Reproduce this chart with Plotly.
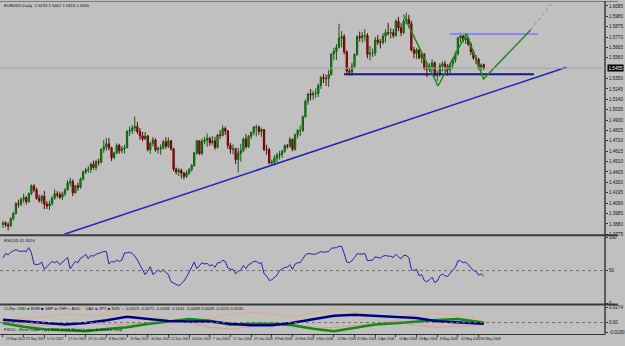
import plotly.graph_objects as go

# ---------------- data ----------------
date_labels = ["13 Sep 2007", "25 Sep 2007", "5 Oct 2007", "17 Oct 2007", "29 Oct 2007",
               "8 Nov 2007", "20 Nov 2007", "30 Nov 2007", "12 Dec 2007", "24 Dec 2007",
               "7 Jan 2008", "17 Jan 2008", "29 Jan 2008", "8 Feb 2008", "20 Feb 2008",
               "3 Mar 2008", "13 Mar 2008", "25 Mar 2008", "4 Apr 2008", "16 Apr 2008",
               "28 Apr 2008", "8 May 2008", "20 May 2008", "30 May 2008"]
label_bars = [0, 8, 16, 24, 32, 40, 48, 56, 64, 72, 80, 88, 96, 104, 112, 120, 128, 136,
              144, 152, 160, 168, 176, 184]

first_open = 1.3875
closes = [
    # Sep 2007
    1.3890, 1.3870, 1.3860, 1.3935, 1.3985, 1.4085, 1.4080, 1.4130, 1.4145, 1.4105, 1.4185, 1.4265,
    # Oct
    1.4225, 1.4140, 1.4115, 1.4160, 1.4080, 1.4060, 1.4085, 1.4140, 1.4185, 1.4175, 1.4150, 1.4185,
    1.4225, 1.4295, 1.4310, 1.4195, 1.4265, 1.4250, 1.4330, 1.4405, 1.4425, 1.4430, 1.4485,
    # Nov
    1.4450, 1.4510, 1.4505, 1.4635, 1.4660, 1.4690, 1.4650, 1.4550, 1.4595, 1.4675, 1.4620, 1.4640,
    1.4650, 1.4815, 1.4825, 1.4850, 1.4865, 1.4815, 1.4770, 1.4740, 1.4770, 1.4630,
    # Dec
    1.4695, 1.4730, 1.4630, 1.4640, 1.4650, 1.4710, 1.4665, 1.4720, 1.4640, 1.4435, 1.4405, 1.4420,
    1.4395, 1.4360, 1.4395, 1.4430, 1.4470, 1.4600, 1.4720, 1.4590,
    # Jan 2008
    1.4715, 1.4730, 1.4745, 1.4700, 1.4720, 1.4655, 1.4780, 1.4775, 1.4845, 1.4820, 1.4675, 1.4635,
    1.4640, 1.4530, 1.4595, 1.4620, 1.4740, 1.4660, 1.4765, 1.4805, 1.4860, 1.4860,
    # Feb
    1.4815, 1.4835, 1.4630, 1.4630, 1.4495, 1.4505, 1.4545, 1.4575, 1.4585, 1.4615, 1.4670, 1.4665,
    1.4735, 1.4635, 1.4780, 1.4825, 1.4825, 1.4965, 1.5120, 1.5195, 1.5185,
    # Mar
    1.5200, 1.5200, 1.5280, 1.5360, 1.5350, 1.5350, 1.5390, 1.5600, 1.5625, 1.5665, 1.5760, 1.5775,
    1.5620, 1.5425, 1.5415, 1.5475, 1.5595, 1.5775, 1.5765, 1.5785, 1.5785,
    # Apr
    1.5595, 1.5610, 1.5610, 1.5740, 1.5720, 1.5715, 1.5780, 1.5815, 1.5810, 1.5815, 1.5785, 1.5930,
    1.5865, 1.5815, 1.5930, 1.5950, 1.5905, 1.5640, 1.5605, 1.5640, 1.5560, 1.5595,
    # May
    1.5455, 1.5445, 1.5470, 1.5510, 1.5385, 1.5390, 1.5480, 1.5500, 1.5470, 1.5440, 1.5500, 1.5540,
    1.5600, 1.5760, 1.5780, 1.5740, 1.5760, 1.5700, 1.5620, 1.5560, 1.5545, 1.5460,
    # Jun
    1.5490, 1.5455,
]
highs = [
    1.3910, 1.3905, 1.3895, 1.3945, 1.4000, 1.4100, 1.4125, 1.4145, 1.4185, 1.4160, 1.4200, 1.4280,
    1.4280, 1.4245, 1.4175, 1.4175, 1.4215, 1.4110, 1.4115, 1.4160, 1.4230, 1.4210, 1.4205, 1.4205,
    1.4240, 1.4320, 1.4345, 1.4330, 1.4275, 1.4295, 1.4350, 1.4420, 1.4445, 1.4465, 1.4500,
    1.4520, 1.4530, 1.4540, 1.4640, 1.4730, 1.4750, 1.4750, 1.4660, 1.4610, 1.4695, 1.4690, 1.4665,
    1.4680, 1.4830, 1.4865, 1.4880, 1.4967, 1.4910, 1.4850, 1.4810, 1.4810, 1.4780,
    1.4710, 1.4760, 1.4745, 1.4665, 1.4685, 1.4730, 1.4755, 1.4755, 1.4730, 1.4650, 1.4450, 1.4445,
    1.4440, 1.4405, 1.4420, 1.4445, 1.4485, 1.4610, 1.4730, 1.4725,
    1.4745, 1.4760, 1.4795, 1.4760, 1.4770, 1.4760, 1.4790, 1.4830, 1.4875, 1.4865, 1.4830, 1.4700,
    1.4685, 1.4650, 1.4650, 1.4690, 1.4755, 1.4790, 1.4780, 1.4815, 1.4870, 1.4885,
    1.4875, 1.4855, 1.4840, 1.4680, 1.4650, 1.4530, 1.4575, 1.4600, 1.4620, 1.4630, 1.4685, 1.4690,
    1.4760, 1.4745, 1.4795, 1.4840, 1.4875, 1.4975, 1.5140, 1.5205, 1.5245,
    1.5225, 1.5250, 1.5300, 1.5380, 1.5400, 1.5390, 1.5435, 1.5605, 1.5660, 1.5700, 1.5905, 1.5830,
    1.5800, 1.5635, 1.5460, 1.5510, 1.5605, 1.5790, 1.5825, 1.5820, 1.5850,
    1.5810, 1.5680, 1.5655, 1.5770, 1.5790, 1.5750, 1.5810, 1.5850, 1.5915, 1.5860, 1.5850, 1.5950,
    1.5975, 1.5910, 1.5955, 1.6018, 1.5995, 1.5935, 1.5670, 1.5660, 1.5650, 1.5625,
    1.5610, 1.5510, 1.5505, 1.5545, 1.5525, 1.5430, 1.5505, 1.5525, 1.5530, 1.5495, 1.5510, 1.5560,
    1.5625, 1.5775, 1.5815, 1.5800, 1.5790, 1.5770, 1.5715, 1.5640, 1.5590, 1.5560,
    1.5505, 1.5500,
]
lows = [
    1.3840, 1.3850, 1.3815, 1.3845, 1.3915, 1.3975, 1.4045, 1.4060, 1.4095, 1.4075, 1.4095, 1.4170,
    1.4200, 1.4125, 1.4095, 1.4085, 1.4030, 1.4030, 1.4020, 1.4065, 1.4125, 1.4145, 1.4130, 1.4120,
    1.4160, 1.4215, 1.4260, 1.4160, 1.4185, 1.4215, 1.4235, 1.4320, 1.4385, 1.4395, 1.4395,
    1.4430, 1.4420, 1.4470, 1.4490, 1.4600, 1.4620, 1.4625, 1.4515, 1.4535, 1.4590, 1.4590, 1.4595,
    1.4590, 1.4645, 1.4770, 1.4790, 1.4815, 1.4790, 1.4730, 1.4715, 1.4730, 1.4615,
    1.4590, 1.4665, 1.4610, 1.4590, 1.4580, 1.4630, 1.4640, 1.4650, 1.4620, 1.4410, 1.4380, 1.4365,
    1.4340, 1.4330, 1.4345, 1.4375, 1.4410, 1.4460, 1.4580, 1.4580,
    1.4575, 1.4685, 1.4660, 1.4670, 1.4680, 1.4630, 1.4640, 1.4740, 1.4765, 1.4780, 1.4640, 1.4590,
    1.4585, 1.4485, 1.4400, 1.4510, 1.4605, 1.4640, 1.4650, 1.4735, 1.4775, 1.4765,
    1.4780, 1.4760, 1.4615, 1.4580, 1.4485, 1.4470, 1.4470, 1.4500, 1.4530, 1.4545, 1.4600, 1.4640,
    1.4650, 1.4615, 1.4620, 1.4745, 1.4770, 1.4810, 1.4950, 1.5085, 1.5130,
    1.5135, 1.5155, 1.5165, 1.5245, 1.5305, 1.5275, 1.5265, 1.5380, 1.5535, 1.5540, 1.5655, 1.5665,
    1.5595, 1.5390, 1.5380, 1.5380, 1.5455, 1.5580, 1.5725, 1.5715, 1.5725,
    1.5555, 1.5535, 1.5570, 1.5580, 1.5690, 1.5655, 1.5695, 1.5715, 1.5785, 1.5755, 1.5760, 1.5775,
    1.5830, 1.5780, 1.5800, 1.5900, 1.5865, 1.5625, 1.5555, 1.5550, 1.5545, 1.5505,
    1.5435, 1.5365, 1.5420, 1.5425, 1.5370, 1.5325, 1.5370, 1.5420, 1.5420, 1.5380, 1.5400, 1.5450,
    1.5510, 1.5585, 1.5720, 1.5715, 1.5700, 1.5680, 1.5590, 1.5540, 1.5495, 1.5440,
    1.5430, 1.5435,
]
# forex daily bars open at the previous bar's close
opens = [first_open] + closes[:-1]
bars = list(range(len(closes)))

rsi = [
    69, 76, 74, 78, 80, 82, 80, 79, 80, 79,
    85, 77, 60, 59, 60, 63, 52, 56, 59, 64,
    62, 64, 59, 63, 66, 70, 53, 59, 64, 62,
    69, 71, 75, 68, 73, 72, 75, 76, 78, 79,
    79, 60, 64, 63, 66, 64, 66, 77, 77, 78,
    76, 72, 66, 59, 52, 44, 49, 56, 44, 47,
    51, 48, 52, 47, 44, 33, 31, 30, 27, 30,
    34, 40, 47, 54, 63, 53, 58, 62, 60, 61,
    57, 59, 55, 62, 62, 66, 64, 54, 52, 52,
    45, 49, 51, 58, 53, 59, 61, 64, 64, 61,
    62, 45, 42, 35, 36, 40, 43, 50, 52, 55,
    55, 59, 52, 60, 62, 62, 68, 74, 76, 75,
    75, 75, 77, 79, 78, 78, 79, 84, 84, 85,
    87, 87, 76, 63, 62, 65, 70, 76, 75, 76,
    76, 65, 66, 66, 71, 70, 69, 72, 73, 72,
    72, 70, 75, 71, 68, 73, 73, 70, 52, 50,
    52, 42, 44, 35, 33, 36, 40, 32, 34, 42,
    45, 42, 41, 46, 50, 55, 65, 65, 62, 63,
    59, 54, 50, 49, 43, 45, 41.55,
]

ccf_bars = [0, 8, 16, 24, 32, 40, 48, 56, 64, 72, 80, 88, 96, 104, 112, 120, 128, 136,
            144, 152, 160, 168, 176, 184, 186]
ccf_eur = [0.0050, 0.0023, -0.0004, -0.0036, -0.0007, 0.0041, 0.0104, 0.0064, 0.0029, 0.0018,
           0.0018, -0.0021, -0.0048, -0.0048, -0.0004, 0.0059, 0.0122, 0.0143, 0.0125, 0.0107,
           0.0082, 0.0023, 0.0005, -0.0013, -0.0021]
ccf_usd = [-0.0013, -0.0075, -0.0120, -0.0138, -0.0156, -0.0115, -0.0084, -0.0025, 0.0023, 0.0064,
           0.0032, -0.0039, -0.0021, -0.0021, -0.0048, -0.0111, -0.0156, -0.0102, -0.0036, -0.0013,
           0.0023, 0.0047, 0.0063, 0.0005, 0.0000]
ccf_chf = [0.0041, 0.0068, 0.0104, 0.0149, 0.0131, 0.0122, 0.0202, 0.0154, 0.0059, 0.0005,
           0.0077, 0.0149, 0.0184, 0.0161, 0.0104, 0.0184, 0.0256, 0.0193, 0.0125, 0.0095,
           0.0154, 0.0166, 0.0140, 0.0086, 0.0077]
ccf_gbp = [0.0014, -0.0030, -0.0057, -0.0013, 0.0005, -0.0030, -0.0039, -0.0013, 0.0023, -0.0004,
           -0.0084, -0.0120, -0.0066, -0.0021, -0.0021, -0.0102, -0.0090, -0.0057, -0.0025, 0.0036,
           -0.0054, -0.0084, -0.0072, -0.0048, -0.0036]
ccf_nzd = [0.0062, 0.0035, 0.0010, -0.0020, 0.0005, 0.0055, 0.0118, 0.0080, 0.0045, 0.0032,
           0.0030, -0.0005, -0.0030, -0.0032, 0.0010, 0.0072, 0.0135, 0.0155, 0.0140, 0.0120,
           0.0095, 0.0040, 0.0020, 0.0002, -0.0008]

price_ticks = [1.6085, 1.5980, 1.5875, 1.5770, 1.5665, 1.5560, 1.5350, 1.5245, 1.5140,
               1.5035, 1.4930, 1.4825, 1.4720, 1.4615, 1.4510, 1.4405, 1.4300, 1.4195,
               1.4090, 1.3985, 1.3880, 1.3775]
bid_price = 1.5455

# drawing objects (bar index, price)
trend_bars = [23.7, 218.0]
trend_prices = [1.3775, 1.5465]
neck_bars = [131.9, 205.4]
neck_price = 1.5395
top_bars = [172.8, 206.9]
top_price = 1.5802
zig_bars = [154.9, 168.3, 179.3, 185.9, 204.2]
zig_prices = [1.5995, 1.5275, 1.5805, 1.5345, 1.5845]
proj_bars = [204.2, 230.0]
proj_prices = [1.5845, 1.6700]

# ---------------- figure ----------------
H = 346.0
def py(p):
    return 1 - p / H

FONT = "Arial, Liberation Sans, sans-serif"
BG = "#c0c0c0"

fig = go.Figure()

fig.add_trace(go.Candlestick(
    x=bars, open=opens, high=highs, low=lows, close=closes,
    increasing=dict(line=dict(color="#0e5e0e", width=1), fillcolor="#1f9a1f"),
    decreasing=dict(line=dict(color="#6a0000", width=1), fillcolor="#c01414"),
    whiskerwidth=0, xaxis="x", yaxis="y", hoverinfo="skip"))

fig.add_trace(go.Scatter(x=trend_bars, y=trend_prices, mode="lines",
                         line=dict(color="#2424b4", width=1.5), xaxis="x", yaxis="y"))
fig.add_trace(go.Scatter(x=neck_bars, y=[neck_price, neck_price], mode="lines",
                         line=dict(color="#161690", width=2), xaxis="x", yaxis="y"))
fig.add_trace(go.Scatter(x=top_bars, y=[top_price, top_price], mode="lines",
                         line=dict(color="#8a8aee", width=2), xaxis="x", yaxis="y"))
fig.add_trace(go.Scatter(x=zig_bars, y=zig_prices, mode="lines",
                         line=dict(color="#1e8a1e", width=1.5), xaxis="x", yaxis="y"))
fig.add_trace(go.Scatter(x=proj_bars, y=proj_prices, mode="lines",
                         line=dict(color="#8a8a8a", width=1, dash="dot"), xaxis="x", yaxis="y"))

fig.add_trace(go.Scatter(x=bars, y=rsi, mode="lines",
                         line=dict(color="#2222b0", width=1), xaxis="x2", yaxis="y2"))

for vals, col, w in [(ccf_chf, "#e2ad78", 1), (ccf_gbp, "#e69488", 1),
                     (ccf_nzd, "#dcdcff", 1.2), (ccf_usd, "#108c10", 2.5),
                     (ccf_eur, "#000080", 2.5)]:
    fig.add_trace(go.Scatter(x=ccf_bars, y=vals, mode="lines", line=dict(color=col, width=w),
                             xaxis="x3", yaxis="y3"))

xr = [-1.15, 232.9]
common_x = dict(range=xr, showgrid=False, zeroline=False, showticklabels=False, ticks="")
tickfont = dict(family=FONT, size=4.6, color="#111")

fig.update_layout(
    width=625, height=346, autosize=False,
    margin=dict(l=0, r=13, t=0, b=0),
    paper_bgcolor=BG, plot_bgcolor=BG, showlegend=False,
    xaxis=dict(domain=[0, 1], anchor="y", rangeslider=dict(visible=False), **common_x),
    xaxis2=dict(domain=[0, 1], anchor="y2", matches="x", **common_x),
    xaxis3=dict(domain=[0, 1], anchor="y3", matches="x", range=xr, showgrid=False,
                zeroline=False, showticklabels=False, ticks="outside", ticklen=2,
                tickcolor="#333", tickvals=label_bars, showline=True, linecolor="#333",
                linewidth=1),
    yaxis=dict(domain=[py(236), py(2)], range=[1.3775, 1.6115], side="right", anchor="x",
               tickvals=price_ticks, ticktext=[f"{v:.4f}" for v in price_ticks],
               tickfont=tickfont, ticks="outside", ticklen=2, tickcolor="#333",
               showgrid=False, zeroline=False, showline=False),
    yaxis2=dict(domain=[py(306), py(238)], range=[0, 102.3], side="right", anchor="x2",
                tickvals=[100, 50, 0], ticktext=["100", "50", "0"], tickfont=tickfont,
                ticks="outside", ticklen=2, tickcolor="#333",
                showgrid=False, zeroline=False, showline=False),
    yaxis3=dict(domain=[py(337), py(308)], range=[-0.0209, 0.031], side="right", anchor="x3",
                tickvals=[0.0274, 0.0, -0.0180], ticktext=["0.0274", "0.00", "-0.0180"],
                tickfont=tickfont, ticks="outside", ticklen=2, tickcolor="#333",
                showgrid=False, zeroline=False, showline=False),
)

shapes = []
# frame / separators
shapes.append(dict(type="line", xref="paper", yref="paper", x0=0, x1=625 / 612,
                   y0=py(0.5), y1=py(0.5), line=dict(color="#7a7a7a", width=1)))
shapes.append(dict(type="line", xref="paper", yref="paper", x0=0, x1=625 / 612,
                   y0=py(237), y1=py(237), line=dict(color="#3a3a3a", width=2)))
shapes.append(dict(type="line", xref="paper", yref="paper", x0=0, x1=625 / 612,
                   y0=py(307), y1=py(307), line=dict(color="#3a3a3a", width=2)))
shapes.append(dict(type="line", xref="paper", yref="paper", x0=1, x1=1,
                   y0=py(337.5), y1=py(0), line=dict(color="#3a3a3a", width=1.5)))
# bid line
shapes.append(dict(type="line", xref="paper", yref="y", x0=0, x1=1,
                   y0=bid_price, y1=bid_price, line=dict(color="#a6a6a6", width=1)))
# level lines
shapes.append(dict(type="line", xref="paper", yref="y2", x0=0, x1=1, y0=50, y1=50,
                   line=dict(color="#6e6e6e", width=1, dash="dot")))
shapes.append(dict(type="line", xref="paper", yref="y3", x0=0, x1=1, y0=0, y1=0,
                   line=dict(color="#6e6e6e", width=1, dash="dot")))
fig.update_layout(shapes=shapes)

small = dict(family=FONT, size=4.2, color="#111")
ann = []
ann.append(dict(xref="paper", yref="paper", x=0.004, y=py(4.5), xanchor="left",
                yanchor="middle", showarrow=False, font=small,
                text="EURUSD,Daily  1.5433 1.5461 1.5416 1.5455"))
ann.append(dict(xref="paper", yref="paper", x=0.004, y=py(242.5), xanchor="left",
                yanchor="middle", showarrow=False, font=small, text="RSI(14) 41.5516"))
ccf_names = ["USD", "EUR", "GBP", "CHF", "AUD", "CAD", "JPY", "NZD"]
ccf_cols = ["#108c10", "#000080", "#d02020", "#e08a30", "#e0c060", "#8020a0", "#800000", "#40c0e0"]
ccf_last = ["0.0023", "-0.0071", "-0.0058", "-0.0011", "-0.0089", "0.0048", "-0.0021", "0.0031"]
legend_txt = "CCFp: " + " ".join(
    f"{n} <span style='color:{c}'>■</span>" for n, c in zip(ccf_names, ccf_cols)
) + "  " + " ".join(ccf_last)
ann.append(dict(xref="paper", yref="paper", x=0.004, y=py(311), xanchor="left",
                yanchor="middle", showarrow=False, font=small, text=legend_txt))
ann.append(dict(xref="paper", yref="paper", x=0.004, y=py(332.5), xanchor="left",
                yanchor="middle", showarrow=False, font=small,
                text="FXDD - MetaTrader - (c) 2001-2008 MetaQuotes Software Corp."))
ann.append(dict(xref="paper", yref="y", x=1.003, y=bid_price, xanchor="left",
                yanchor="middle", showarrow=False, bgcolor="#000000", borderpad=0.5,
                font=dict(family=FONT, size=4.6, color="#ffffff"), text=f"{bid_price:.4f}"))
for b, lab in zip(label_bars, date_labels):
    ann.append(dict(xref="x3", yref="paper", x=b + 0.3, y=py(342), xanchor="left",
                    yanchor="middle", showarrow=False,
                    font=dict(family=FONT, size=3.4, color="#111"), text=lab))
fig.update_layout(annotations=ann)

fig.write_html("out.html")
